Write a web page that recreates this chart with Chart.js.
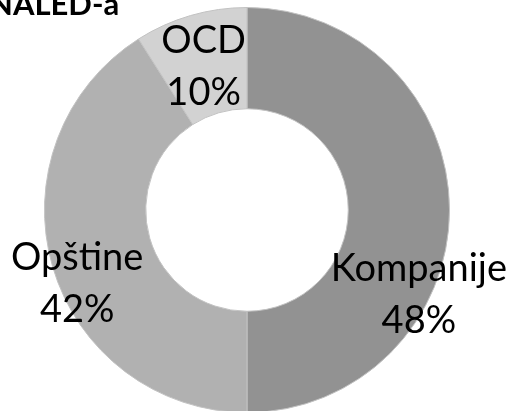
<!DOCTYPE html>
<html>
  <head>
    <meta charset="utf-8">
    <script src="https://cdn.jsdelivr.net/npm/chart.js@4.4.0/dist/chart.umd.min.js"></script>
    <style>
      html, body { margin: 0; padding: 0; overflow: hidden; background: #fff; }
      #wrap { position: absolute; left: 0; top: 0; width: 514px; height: 420px; }
    </style>
  </head>
  <body>
    <div id="wrap"><canvas id="myChart" width="514" height="420"></canvas></div>
    <script>
      // data
      var categories = ["Kompanije", "Opštine", "OCD"];
      var shares = [50, 41, 9];               // arc sizes as drawn
      var printedPercents = ["48%", "42%", "10%"]; // percentages printed on the slices
      var sliceColors = ["#929292", "#b1b1b1", "#d2d2d2"];
      var titleText = "NALED-a";

      // label offsets from the middle of each arc (manual placement like the original)
      var labelOffsets = [[20, 84], [-24, 30], [-1, 2]];

      var sliceLabels = {
        id: "sliceLabels",
        afterDatasetsDraw: function(chart) {
          var ctx = chart.ctx;
          var meta = chart.getDatasetMeta(0);
          ctx.save();
          ctx.fillStyle = "#000";
          ctx.font = "38px Lato";
          ctx.textAlign = "center";
          ctx.textBaseline = "middle";
          meta.data.forEach(function(arc, i) {
            var p = arc.tooltipPosition();
            var x = p.x + labelOffsets[i][0];
            var y = p.y + labelOffsets[i][1];
            ctx.fillText(categories[i], x, y - 25);
            ctx.fillText(printedPercents[i], x, y + 27);
          });
          // title, cut off at the top left like the original
          ctx.font = "bold 31px Lato";
          ctx.textAlign = "left";
          ctx.textBaseline = "alphabetic";
          ctx.fillText(titleText, -11, 15);
          ctx.restore();
        }
      };

      var ctx = document.getElementById("myChart");
      var myChart = new Chart(ctx, {
        type: "doughnut",
        data: {
          labels: categories,
          datasets: [
            {
              data: shares,
              backgroundColor: sliceColors,
              borderColor: "#c2c2c2",
              borderWidth: 1
            }
          ]
        },
        options: {
          responsive: false,
          animation: false,
          cutout: "50%",
          layout: { padding: { top: 7, bottom: 7, left: 44, right: 64 } },
          plugins: {
            legend: { display: false },
            tooltip: { enabled: false }
          }
        },
        plugins: [sliceLabels]
      });
    </script>
  </body>
</html>
